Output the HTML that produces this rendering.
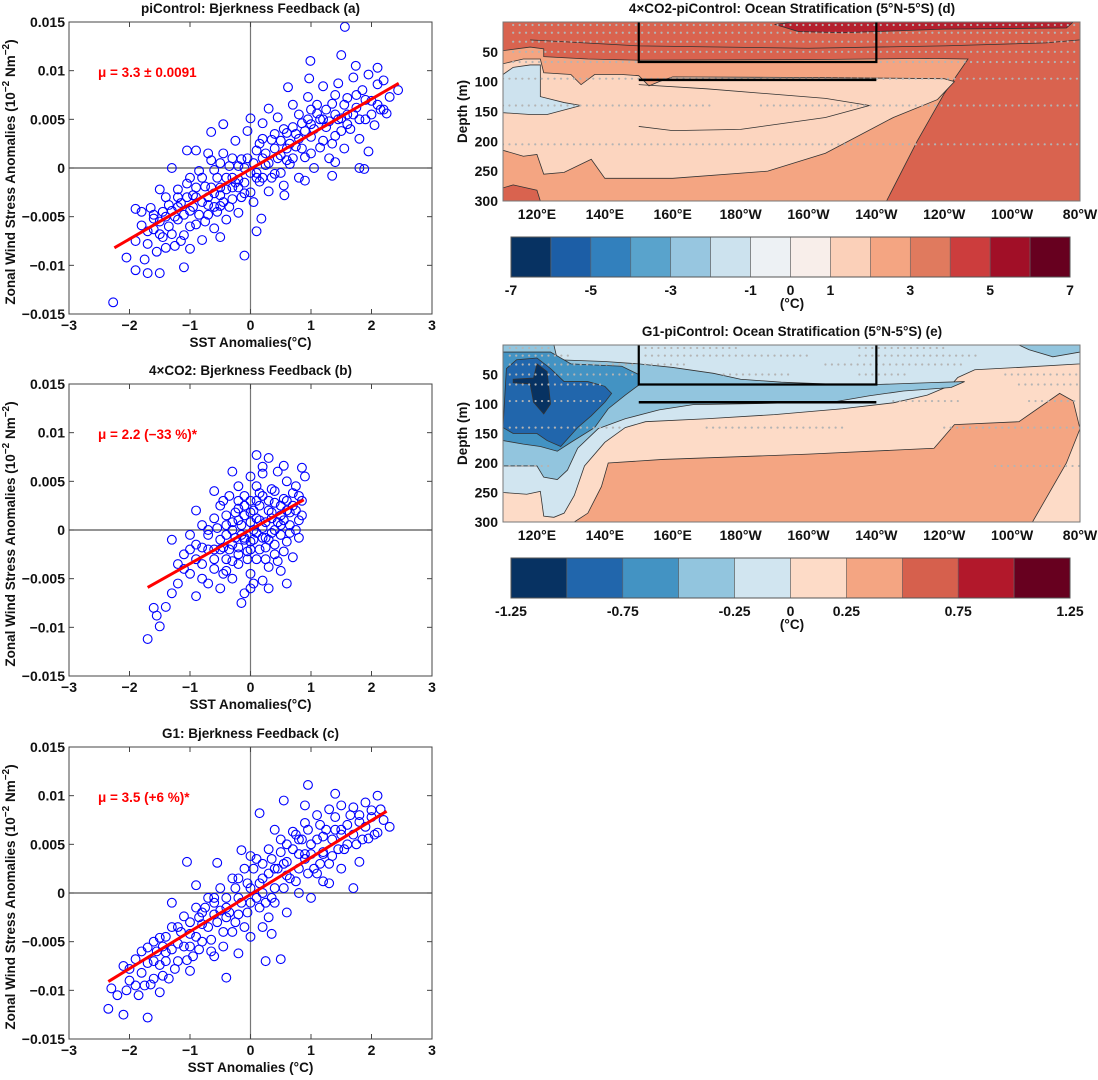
<!DOCTYPE html>
<html><head><meta charset="utf-8"><style>
body{margin:0;background:#fff}
svg text{font-family:"Liberation Sans",Arial,sans-serif;font-weight:bold}
</style></head><body>
<svg id="fig" xmlns="http://www.w3.org/2000/svg" width="1098" height="1075" viewBox="0 0 1098 1075"></svg>
<script>
// ---------- scatter data (x: SST anomaly °C, y: wind stress ×1e-3) ----------
const ptsA=[[-2.27,-13.8],[1.56,14.5],[1.5,11.6],[0.99,11],[1.74,10.5],[2.1,10.3],[2.44,8],[-0.1,-9],[-1.1,-10.2],[-1.9,-10.5],[-1.7,-10.8],[-2.05,-9.2],[-1.5,-10.8],[-1.9,-4.2],[1.8,0],[1.88,-0.1],[1.95,1.7],[1.35,-0.8],[0.56,-2.8],[0.1,-6.5],[0.18,-5.2],[-0.45,4.5],[-0.65,3.7],[0.62,8.3],[0.97,9.2],[-1.05,1.8],
[-1.9,-7.5],[-1.8,-5.9],[-1.75,-9.4],[-1.7,-7.8],[-1.65,-4.1],[-1.6,-6.3],[-1.55,-8.6],[-1.5,-5.5],[-1.45,-7.1],[-1.4,-3.0],[-1.35,-6.0],[-1.3,-4.4],[-1.25,-8.0],[-1.2,-2.2],[-1.2,-5.3],[-1.15,-3.6],[-1.1,-6.9],[-1.05,-1.6],[-1.0,-4.4],[-0.95,-2.8],[-0.9,-5.8],[-0.85,-0.3],[-0.8,-3.5],[-0.8,-7.4],[-0.75,-1.9],[-0.7,-4.8],[-0.65,0.8],[-0.6,-2.6],[-0.6,-6.2],[-0.55,-1.0],[-0.5,-3.9],[-0.45,1.5],[-0.4,-2.2],[-0.4,-5.3],[-0.35,0.2],[-0.3,-3.2],[-0.25,2.8],[-0.2,-1.2],[-0.2,-4.6],[-0.15,0.9],[-0.1,-2.6],[-0.05,3.8],[0,-0.5],[0.05,-3.5],[0.1,1.8],[0.15,-1.4],[0.2,4.6],[0.25,0.3],[0.3,-2.4],[0.35,2.9],[0.4,-0.6],[0.45,5.2],[0.5,1.3],[0.55,-1.8],[0.6,3.6],[0.65,0.4],[0.7,6.5],[0.75,2.2],[0.8,-1.0],[0.85,4.6],[0.9,1.1],[0.95,7.3],[1.0,3.2],[1.05,0.0],[1.1,5.6],[1.15,2.1],[1.2,8.4],[1.25,4.2],[1.3,1.0],[1.35,6.6],[1.4,3.3],[1.45,8.7],[1.5,5.1],[1.55,2.0],[1.6,7.2],[1.65,4.0],[1.7,9.3],[1.75,6.2],[1.8,3.0],[1.85,8.0],[1.9,5.0],[1.95,9.6],[2.0,6.9],[2.05,4.4],[2.1,8.6],[2.15,6.0],[2.2,9.0],[2.25,5.6],[2.3,7.3],[-1.5,-2.2],[-1.0,-8.3],[-0.5,-7.1],[0.3,6.1],[0.9,-1.3],[1.4,0.6],[-1.3,0.0],[-0.9,1.8],[0.0,5.1],
[-1.2,-4.0],[-0.9,-3.0],[-0.7,-3.0],[-0.5,-2.0],[-0.3,-1.0],[-0.1,0.0],[0.2,1.0],[0.4,2.0],[0.6,2.0],[0.8,3.0],[1.0,4.5],[1.2,5.0],[1.4,5.5],[1.6,5.5],[-1.4,-5.0],[-1.6,-4.8],[-0.6,-4.0],[-0.2,-2.0],[0.1,-1.0],[0.7,1.0],
[-1.7,-6.5],[-1.6,-5.2],[-1.5,-6.8],[-1.45,-4.5],[-1.4,-8.2],[-1.35,-3.8],[-1.3,-6.8],[-1.25,-5.0],[-1.2,-3.0],[-1.15,-7.5],[-1.1,-4.8],[-1.05,-3.0],[-1.0,-6.0],[-0.95,-4.0],[-0.9,-2.0],[-0.85,-4.8],[-0.8,-1.0],[-0.75,-5.5],[-0.7,-3.8],[-0.65,-2.0],[-0.6,-0.2],[-0.55,-4.5],[-0.5,-2.8],[-0.5,0.5],[-0.45,-3.5],[-0.4,-1.0],[-0.35,-4.0],[-0.3,-2.0],[-0.3,1.0],[-0.25,-1.5],[-0.2,0.2],[-0.15,-3.0],[-0.1,-1.5],[-0.05,1.0],[0,-2.5],[0.05,0.5],[0.1,-0.5],[0.15,2.5],[0.2,-1.0],[0.25,1.5],[0.3,0.5],[0.35,-1.0],[0.4,3.5],[0.45,1.0],[0.5,2.8],[0.55,4.0],[0.6,0.8],[0.65,2.5],[0.7,4.2],[0.75,3.5],[0.8,5.5],[0.85,2.0],[0.9,3.8],[0.95,5.0],[1.0,1.5],[1.05,4.0],[1.1,6.5],[1.15,5.0],[1.2,2.8],[1.25,6.0],[1.3,4.8],[1.35,2.5],[1.4,7.5],[1.45,5.0],[1.5,3.8],[1.55,6.5],[1.6,4.5],[1.7,5.5],[1.75,7.5],[1.8,5.0],[1.9,7.0],[2.0,5.5],[2.1,6.5],[2.2,6.0],[-1.8,-4.5],[-0.7,1.5],[0.2,3.0],[0.5,-0.5],[1.0,6.0],[-1.0,-1.0]];
const lineA=[[-2.25,-8.2],[2.45,8.7]];
const ptsB=[[-1.7,-11.2],[-1.6,-8],[-1.5,-9.9],[-1.55,-8.8],[-1.4,-7.9],[-1.3,-1],[0.1,7.7],[0.3,7.4],[0.55,6.6],[0.85,6.4],[-0.9,-6.8],[-1.2,-5.5],
[-1.0,-4.5],[-1.1,-2.5],[-0.9,-1.5],[-0.8,-3.5],[-0.8,0.5],[-0.7,-5.5],[-0.7,-2.0],[-0.6,1.2],[-0.6,-4.0],[-0.5,-1.0],[-0.5,2.5],[-0.5,-6.0],[-0.4,-3.0],[-0.4,0.5],[-0.35,3.5],[-0.3,-5.0],[-0.3,-1.5],[-0.25,1.8],[-0.2,-3.5],[-0.2,4.5],[-0.15,-0.5],[-0.1,2.5],[-0.1,-6.5],[-0.05,-2.2],[0,0.8],[0,5.5],[0,-4.5],[0.05,-1.0],[0.1,3.0],[0.1,-3.0],[0.15,1.0],[0.2,-5.2],[0.2,5.8],[0.25,-1.8],[0.3,2.0],[0.3,-3.8],[0.35,4.2],[0.4,0.0],[0.4,-2.5],[0.45,6.0],[0.5,1.5],[0.5,-4.2],[0.55,3.2],[0.6,-1.2],[0.6,5.0],[0.65,0.5],[0.7,2.5],[0.7,-2.8],[0.75,4.5],[0.8,1.0],[0.8,-0.8],[0.85,3.0],[0.9,5.5],[-0.3,6.0],[-0.6,4.0],[-0.9,2.0],[-1.0,-0.5],[0.3,-6.0],[-0.15,-7.5],[0.6,-5.5],[0.0,3.0],[0.2,0.2],[-0.4,-0.5],[-0.2,1.0],[0.1,-0.3],[0.4,2.8],[-0.6,-2.0],
[-0.1,1.5],[0.25,-0.8],[-0.3,0.0],[0.5,0.5],[0.0,-2.0],[-0.45,-1.8],[0.15,3.8],[-0.1,-1.0],[0.35,1.2],[-0.2,-2.5],[0.6,2.0],[-0.7,0.0],[0.05,2.0],
[-0.8,-1.8],[-0.7,-0.5],[-0.6,-3.0],[-0.55,0.2],[-0.5,-2.0],[-0.45,-4.5],[-0.4,1.5],[-0.35,-2.0],[-0.3,-3.2],[-0.3,0.8],[-0.25,-0.8],[-0.2,-1.8],[-0.2,2.2],[-0.15,0.5],[-0.1,-0.8],[-0.1,3.5],[-0.05,-3.0],[0,-1.2],[0,1.8],[0.05,0.0],[0.05,-5.5],[0.1,1.2],[0.15,-2.0],[0.15,2.5],[0.2,-0.8],[0.2,3.5],[0.25,0.8],[0.25,-3.0],[0.3,-1.0],[0.3,3.0],[0.35,-0.3],[0.35,1.8],[0.4,-1.5],[0.4,4.0],[0.45,0.8],[0.45,-3.2],[0.5,2.5],[0.5,-0.5],[0.55,1.0],[0.55,-2.2],[0.6,3.0],[0.65,-0.3],[0.65,1.8],[0.7,3.8],[0.75,0.0],[0.75,2.0],[0.8,3.5],[0.85,1.5],[-0.9,-3.0],[-1.0,-2.0],[-1.2,-3.5],[-0.8,-5.0],[-0.4,-4.2],[0.0,-6.0],[0.1,4.5],[-0.2,3.0],[-0.45,3.0],[0.2,6.5],[-1.1,-4.0],[-1.3,-6.5]];
const lineB=[[-1.7,-5.9],[0.88,3.1]];
const ptsC=[[-2.1,-12.5],[-1.7,-12.8],[-2.35,-11.9],[0.95,11.1],[1.4,10.2],[2.1,10],[0.25,-7],[0.5,-6.8],[0.35,-4.2],[-0.4,-8.7],[-0.55,3.1],[-1.05,3.2],[-0.15,4.4],[0.55,9.5],[0.15,8.2],[2.3,6.8],[1.2,1.2],[1.7,0.5],
[-2.2,-10.5],[-2.1,-7.5],[-2.0,-9.0],[-1.9,-6.8],[-1.85,-10.5],[-1.8,-8.2],[-1.7,-5.6],[-1.65,-9.4],[-1.6,-7.0],[-1.5,-4.6],[-1.45,-8.5],[-1.4,-6.1],[-1.3,-3.5],[-1.25,-7.8],[-1.2,-5.2],[-1.1,-2.4],[-1.05,-6.9],[-1.0,-4.2],[-0.9,-1.5],[-0.85,-5.8],[-0.8,-3.2],[-0.7,-0.5],[-0.65,-4.8],[-0.6,-2.2],[-0.5,0.5],[-0.45,-4.0],[-0.4,-1.5],[-0.3,1.5],[-0.25,-3.0],[-0.2,-0.5],[-0.1,2.5],[-0.05,-2.0],[0,0.5],[0.1,3.5],[0.15,-1.5],[0.2,1.5],[0.3,4.5],[0.35,-0.5],[0.4,2.5],[0.5,5.5],[0.55,0.5],[0.6,3.2],[0.7,6.3],[0.75,1.2],[0.8,4.0],[0.9,7.2],[0.95,2.0],[1.0,5.0],[1.1,8.0],[1.15,3.0],[1.2,5.8],[1.3,8.6],[1.35,3.8],[1.4,6.5],[1.5,9.0],[1.55,4.5],[1.6,7.0],[1.7,8.8],[1.75,5.0],[1.8,7.3],[1.9,9.3],[1.95,5.6],[2.0,7.8],[2.1,6.2],[2.15,8.6],[-1.5,-10.2],[-1.0,-8.0],[-0.6,-6.5],[0.2,-3.5],[0.6,-2.0],[1.0,-0.5],[-2.3,-9.8],[-1.3,-1.0],[-0.9,0.8],[0.0,3.8],[0.4,6.5],[0.9,9.0],[1.3,1.0],[1.8,3.2],[-0.2,-6.2],
[-1.6,-5.0],[-1.2,-3.5],[-0.8,-2.0],[-0.4,-2.5],[0.2,0.0],[0.6,1.8],[0.9,4.0],[1.2,4.2],[1.5,6.0],[0.8,5.5],[-1.0,-5.5],[-0.2,1.5],[0.4,-1.0],[1.1,2.0],[-1.4,-7.0],[-0.6,-0.5],
[-2.0,-7.8],[-1.9,-9.5],[-1.8,-6.0],[-1.7,-7.2],[-1.6,-8.8],[-1.55,-6.0],[-1.5,-7.4],[-1.45,-5.5],[-1.4,-4.5],[-1.35,-8.8],[-1.3,-5.8],[-1.2,-7.0],[-1.15,-4.0],[-1.1,-5.5],[-1.0,-3.0],[-0.95,-6.5],[-0.9,-4.5],[-0.85,-2.5],[-0.8,-5.0],[-0.75,-1.5],[-0.7,-3.5],[-0.65,-6.0],[-0.6,-1.0],[-0.55,-3.0],[-0.5,-1.8],[-0.45,-5.5],[-0.4,-0.5],[-0.35,-2.0],[-0.3,-4.0],[-0.25,0.5],[-0.2,-2.2],[-0.15,-1.0],[-0.1,-3.5],[-0.05,1.0],[0,-1.0],[0.05,2.5],[0.1,-0.5],[0.15,1.0],[0.2,3.0],[0.25,-1.0],[0.3,2.0],[0.35,3.5],[0.4,0.5],[0.45,2.5],[0.5,4.2],[0.55,3.0],[0.6,5.0],[0.65,1.5],[0.7,4.5],[0.75,6.0],[0.8,2.5],[0.85,5.5],[0.9,3.5],[0.95,6.5],[1.0,4.0],[1.05,2.5],[1.1,5.5],[1.15,7.0],[1.2,4.0],[1.25,6.5],[1.3,3.0],[1.35,5.5],[1.4,7.8],[1.45,4.5],[1.5,6.5],[1.6,5.0],[1.65,8.0],[1.7,6.0],[1.8,8.0],[1.85,5.5],[1.9,6.8],[2.0,8.5],[2.05,6.0],[2.2,7.5],[-2.05,-10.0],[-1.75,-9.5],[0.0,-4.5],[0.3,-2.5],[0.8,0.0],[1.5,2.5]];
const lineC=[[-2.35,-9.1],[2.25,8.4]];
const xTicks=[-3,-2,-1,0,1,2,3];
const yTicks=[15,10,5,0,-5,-10,-15];
const yTickLabels=["0.015","0.01","0.005","0","\u22120.005","\u22120.01","\u22120.015"];

// ---------- contour panels ----------
const lonTicks=[120,140,160,180,200,220,240,260,280];
const lonLabels=["120°E","140°E","160°E","180°W","160°W","140°W","120°W","100°W","80°W"];
const depthTicks=[50,100,150,200,250,300];
const cbarD=[-7,-6,-5,-4,-3,-2,-1,0,1,2,3,4,5,6,7];
const cbarDLabels=[[-7,"-7"],[-5,"-5"],[-3,"-3"],[-1,"-1"],[0,"0"],[1,"1"],[3,"3"],[5,"5"],[7,"7"]];
const cbarDColors=["#073262","#1c5ea6","#3280bd","#59a3cc","#97c6e0","#cce2ee","#edf1f4","#f8eeea","#fbd0b9","#f4a582","#e07a5e","#cc3d3d","#a10f27","#67001f"];
const cbarE=[-1.25,-1,-0.75,-0.5,-0.25,0,0.25,0.5,0.75,1,1.25];
const cbarELabels=[[-1.25,"-1.25"],[-0.75,"-0.75"],[-0.25,"-0.25"],[0,"0"],[0.25,"0.25"],[0.75,"0.75"],[1.25,"1.25"]];
const cbarEColors=["#073262","#2166ac","#4393c3","#92c5de","#d1e5f0","#fddbc7","#f4a582","#d6604d","#b2182b","#67001f"];
// polygons [lon, depth]
const polysD=[
 {c:"#d9634f",p:[[110,0],[280,0],[280,300],[110,300]]},
 {c:"#f4a582",p:[[110,48],[118,42],[122,45],[122,58],[135,62],[150,64],[200,63],[235,61],[247,62],[240,120],[232,200],[223,300],[121,300],[120,282],[113,273],[110,278]]},
 {c:"#fcd5bf",p:[[110,70],[116,62],[121,62],[122,85],[130,88],[133,105],[137,88],[145,88],[150,90],[153,107],[156,100],[160,92],[200,93],[240,95],[243,100],[238,130],[225,160],[205,220],[188,250],[160,262],[140,262],[136,230],[128,252],[122,255],[120,222],[116,225],[110,215]]},
 {c:"#cde2ee",p:[[110,88],[113,76],[118,72],[121,72],[121,125],[128,135],[133,140],[123,155],[118,155],[110,152]]},
 {c:"#b5202e",p:[[190,4],[196,0],[278,0],[276,10],[240,12],[210,18],[197,16],[193,9]]}
];
const linesD=[[[150,105],[170,112],[205,128],[218,140],[205,160],[180,180],[160,182],[150,175]],[[118,30],[150,40],[200,44],[240,40],[270,35],[280,30]]];
const polysE=[
 {c:"#fddbc7",p:[[110,0],[280,0],[280,300],[110,300]]},
 {c:"#f4a582",p:[[131,300],[135,285],[139,240],[141,200],[157,194],[200,185],[237,175],[243,135],[262,130],[274,82],[278,95],[280,142],[276,200],[266,300]]},
 {c:"#d1e5f0",p:[[110,0],[280,0],[280,32],[262,38],[249,42],[244,55],[242,68],[235,85],[225,98],[210,108],[190,118],[170,125],[152,130],[146,140],[140,165],[134,205],[131,255],[128,285],[125,292],[122,290],[121,248],[117,253],[110,250]]},
 {c:"#92c5de",p:[[110,0],[125,0],[126,25],[140,28],[150,32],[160,38],[172,48],[180,58],[192,63],[205,66],[220,67],[235,64],[246,62],[242,72],[228,78],[218,86],[208,96],[188,99],[166,101],[156,110],[146,125],[138,142],[132,175],[129,212],[126,228],[122,224],[120,205],[110,205]]},
 {c:"#4393c3",p:[[110,12],[124,12],[130,32],[145,36],[150,50],[150,68],[146,85],[141,108],[137,140],[130,165],[126,180],[121,172],[116,168],[110,162]]},
 {c:"#2166ac",p:[[111,40],[114,25],[120,22],[124,40],[128,62],[135,62],[140,70],[142,82],[140,97],[136,120],[132,140],[127,172],[123,162],[120,150],[113,150],[110,140]]},
 {c:"#073262",p:[[120,32],[123,45],[124,100],[122,117],[119,97],[118,66],[113,64],[113,58],[119,56]]},
 {c:"#92c5de",p:[[262,0],[280,0],[280,12],[272,20],[265,8]]}
];
const linesE=[];
// stipple rows: [depth, lonStart, lonEnd]
const dotsD=[[5,113,280],[18,113,280],[33,113,280],[50,113,280],[67,113,280],[95,110,280],[140,110,172],[140,186,280],[205,110,280]];
const dotsE=[[5,112,124],[5,152,180],[5,215,240],[18,112,130],[18,152,200],[18,215,250],[33,112,165],[33,205,245],[50,112,150],[50,175,195],[50,215,230],[50,258,280],[67,112,140],[67,262,280],[95,112,140],[95,225,245],[95,265,280],[140,112,145],[140,170,210],[140,240,280],[205,110,125],[205,255,280]];

// ---------- drawing ----------
const NS="http://www.w3.org/2000/svg";
const svg=document.getElementById('fig');
function mk(tag,attrs,parent){const e=document.createElementNS(NS,tag);for(const k in attrs)e.setAttribute(k,attrs[k]);(parent||svg).appendChild(e);return e;}
function txt(s,x,y,size,anchor,parent,fill){const t=mk('text',{x:x,y:y,'font-size':size,'text-anchor':anchor||'middle',fill:fill||'#111'},parent);t.textContent=s;return t;}

function scatter(id,pts,line,top,title,mu,xlab){
  const L=69,R=432,T=top,B=top+292;
  const g=mk('g',{});
  
  
  const sx=v=>L+(v+3)/6*(R-L), sy=v=>T+(15-v)/30*(B-T);
  const tt=txt(title,(L+R)/2,T-9,13.5,'middle',g);
  
  
  mk('line',{x1:sx(0),x2:sx(0),y1:T,y2:B,stroke:'#777','stroke-width':1.2},g);
  mk('line',{x1:L,x2:R,y1:sy(0),y2:sy(0),stroke:'#555','stroke-width':1.2},g);
  const pg=mk('g',{fill:'none',stroke:'#0000ff','stroke-width':1.1},g);
  
  
  pts.forEach(p=>{const c=mk('circle',{cx:sx(p[0]),cy:sy(p[1]),r:4.4},pg);
    
    });
  const rl=mk('line',{x1:sx(line[0][0]),y1:sy(line[0][1]),x2:sx(line[1][0]),y2:sy(line[1][1]),stroke:'#ff0000','stroke-width':3},g);
  
  
  mk('rect',{x:L,y:T,width:R-L,height:B-T,fill:'none',stroke:'#444','stroke-width':1},g);
  xTicks.forEach(v=>{const x=sx(v);mk('line',{x1:x,x2:x,y1:B,y2:B-5,stroke:'#444'},g);mk('line',{x1:x,x2:x,y1:T,y2:T+5,stroke:'#444'},g);
    const t=txt(v<0?'\u2212'+(-v):String(v),x,B+16,14,'middle',g);
    
    });
  yTicks.forEach((v,i)=>{const y=sy(v);mk('line',{x1:L,x2:L+5,y1:y,y2:y,stroke:'#444'},g);mk('line',{x1:R,x2:R-5,y1:y,y2:y,stroke:'#444'},g);
    const t=txt(yTickLabels[i],L-4,y+5,14,'end',g);
    
    });
  const xl=txt(xlab,(L+R)/2,B+33,13.5,'middle',g);
  
  
  const yl=mk('text',{x:0,y:0,'font-size':13.5,'text-anchor':'middle',fill:'#111',transform:`translate(15,${(T+B)/2+4}) rotate(-90)`},g);
  
  
  yl.innerHTML='Zonal Wind Stress Anomalies (10<tspan dy="-6" font-size="10">\u22122</tspan><tspan dy="6"> Nm</tspan><tspan dy="-6" font-size="10">\u22122</tspan><tspan dy="6">)</tspan>';
  const m=txt(mu,98,T+55,13.5,'start',g,'#ff0000');
  
  
}
scatter('a',ptsA,lineA,22,'piControl: Bjerkness Feedback (a)','\u03bc = 3.3 \u00b1 0.0091','SST Anomalies(°C)');
scatter('b',ptsB,lineB,384,'4\u00d7CO2: Bjerkness Feedback (b)','\u03bc = 2.2 (\u221233 %)*','SST Anomalies(°C)');
scatter('c',ptsC,lineC,747,'G1: Bjerkness Feedback (c)','\u03bc = 3.5 (+6 %)*','SST Anomalies (°C)');

function contour(id,top,h,polys,lines,dots,title,cb,cbLabels,cbColors,cbTop){
  const L=503,W=577,T=top,B=top+h;
  const g=mk('g',{});
  
  
  const px=v=>L+(v-110)/170*W, py=d=>T+d/300*h;
  const clipId='clip'+id;
  const cp=mk('clipPath',{id:clipId},g);mk('rect',{x:L,y:T,width:W,height:h},cp);
  const pg=mk('g',{'clip-path':`url(#${clipId})`},g);
  polys.forEach((o,i)=>{const e=mk('polygon',{points:o.p.map(q=>px(q[0])+','+py(q[1])).join(' '),fill:o.c,stroke:i?'#333':'none','stroke-width':0.8},pg);
    
    });
  lines.forEach(l=>{mk('polyline',{points:l.map(q=>px(q[0])+','+py(q[1])).join(' '),fill:'none',stroke:'#333','stroke-width':0.8},pg);});
  const dg=mk('g',{fill:'#b4b4b4'},pg);
  
  
  dots.forEach(r=>{for(let lo=r[1];lo<=r[2];lo+=1.9){mk('circle',{cx:px(lo),cy:py(r[0]),r:1.1},dg);}});
  const box=mk('polyline',{points:[[150,0],[150,67],[220,67],[220,0]].map(q=>px(q[0])+','+py(q[1])).join(' '),fill:'none',stroke:'#000','stroke-width':2.2},g);
  
  
  mk('line',{x1:px(150),x2:px(220),y1:py(97),y2:py(97),stroke:'#000','stroke-width':2.5},g);
  mk('rect',{x:L,y:T,width:W,height:h,fill:'none',stroke:'#777','stroke-width':1},g);
  const tt=txt(title,792,T-9,13.5,'middle',g);
  
  
  lonTicks.forEach((v,i)=>{const t=txt(lonLabels[i],px(v),B+18,14,'middle',g);
    
    });
  depthTicks.forEach(v=>{const t=txt(String(v),L-5,py(v)+5,14,'end',g);
    
    });
  const yl=txt('Depth (m)',0,0,13.5,'middle',g);
  yl.setAttribute('transform',`translate(467,${(T+B)/2}) rotate(-90)`);
  
  
  const CL=511,CR=1070,cw=(CR-CL),lo=cb[0],hi=cb[cb.length-1];
  const cx=v=>CL+(v-lo)/(hi-lo)*cw;
  const cg=mk('g',{},g);
  
  
  for(let i=0;i<cbColors.length;i++){mk('rect',{x:cx(cb[i]),y:cbTop,width:cx(cb[i+1])-cx(cb[i]),height:40,fill:cbColors[i],stroke:'#666','stroke-width':0.6},cg);}
  mk('rect',{x:CL,y:cbTop,width:cw,height:40,fill:'none',stroke:'#555','stroke-width':1},cg);
  cbLabels.forEach(l=>{const t=txt(l[1],cx(l[0]),cbTop+58,14,'middle',cg);
    
    });
  const u=txt('(°C)',792,cbTop+71,13.5,'middle',cg);
  
  
}
contour('d',22,179,polysD,linesD,dotsD,'4\u00d7CO2-piControl: Ocean Stratification (5°N-5°S) (d)',cbarD,cbarDLabels,cbarDColors,237);
contour('e',345,177,polysE,linesE,dotsE,'G1-piControl: Ocean Stratification (5°N-5°S) (e)',cbarE,cbarELabels,cbarEColors,558);
</script>
</body></html>
